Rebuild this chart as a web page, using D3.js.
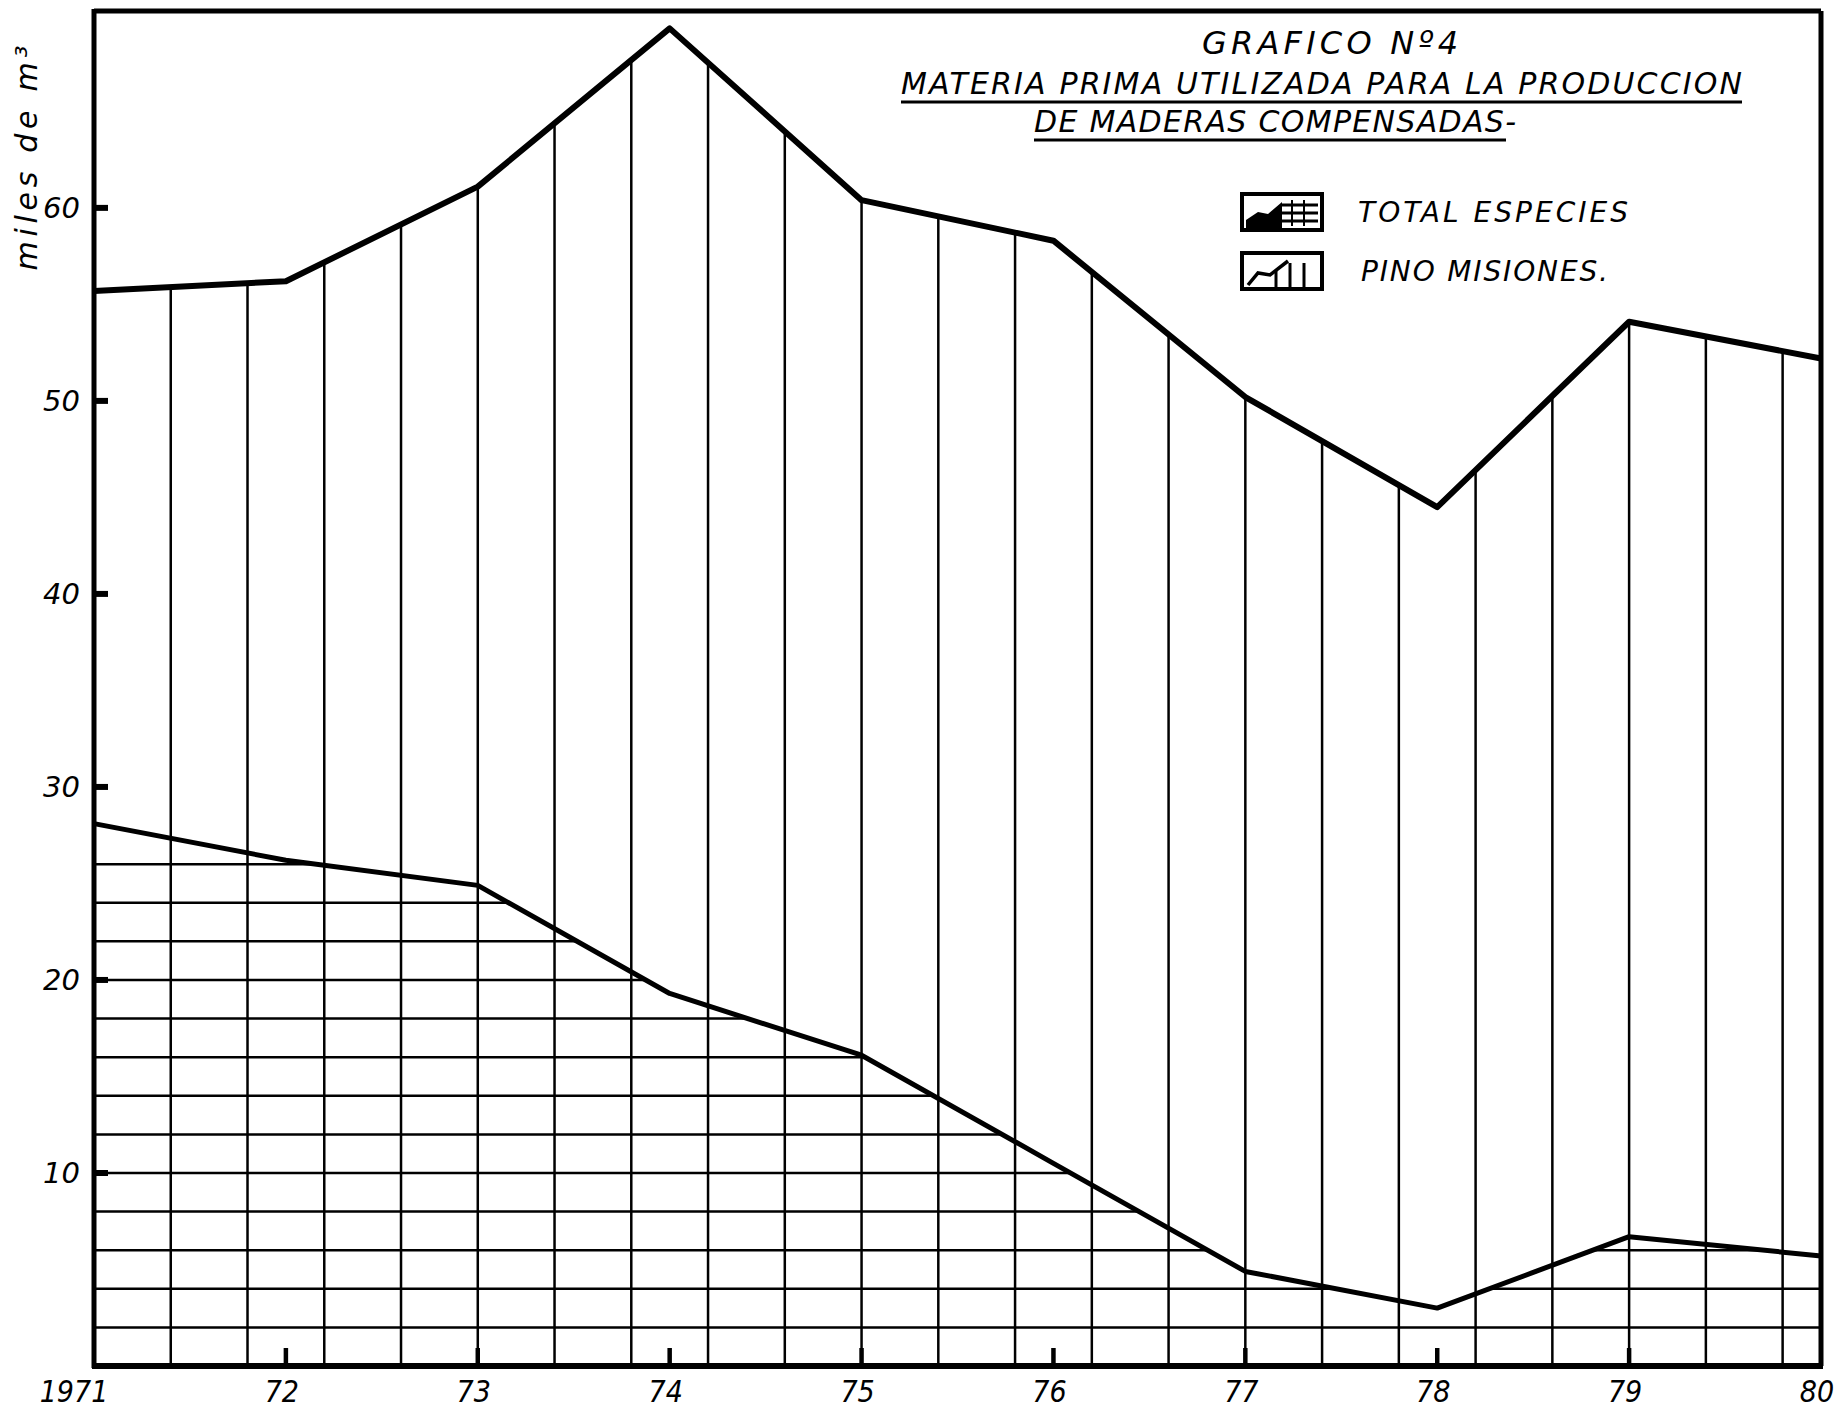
<!DOCTYPE html>
<html>
<head>
<meta charset="utf-8">
<script src="https://cdn.jsdelivr.net/npm/d3@7"></script>
<style>
  body { margin: 0; background: #fff; }
  text { font-family: "DejaVu Sans", sans-serif; font-style: italic; fill: #000; }
</style>
</head>
<body>
<div id="chart"></div>
<script>
var years = [1971, 1972, 1973, 1974, 1975, 1976, 1977, 1978, 1979, 1980];
var yearLabels = ['1971', '72', '73', '74', '75', '76', '77', '78', '79', '80'];
var totalEspecies = [55.7, 56.2, 61.1, 69.3, 60.4, 58.3, 50.2, 44.5, 54.1, 52.2];
var pinoMisiones = [28.1, 26.2, 24.9, 19.3, 16.1, 10.5, 4.9, 3.0, 6.7, 5.7];
var yTicks = [10, 20, 30, 40, 50, 60];
var titleLines = ['GRAFICO Nº4', 'MATERIA PRIMA UTILIZADA PARA LA PRODUCCION', 'DE MADERAS COMPENSADAS-'];
var legendLabels = ['TOTAL ESPECIES', 'PINO MISIONES.'];
var yLabel = 'miles de m³';

var width = 1843;
var height = 1413;
var pLeft = 94, pRight = 1821, pTop = 11, pBottom = 1366;

var x = d3.scaleLinear().domain([1971, 1980]).range([pLeft, pRight]);
var y = d3.scaleLinear().domain([0, 70.2]).range([pBottom, pTop]);

var svg = d3.select('#chart')
  .append('svg')
  .attr('width', width)
  .attr('height', height)
  .style('background', '#fff');

var defs = svg.append('defs');

var area = d3.area()
  .x(function(d, i) { return x(years[i]); })
  .y0(pBottom)
  .y1(function(d) { return y(d); });

var line = d3.line()
  .x(function(d, i) { return x(years[i]); })
  .y(function(d) { return y(d); });

defs.append('clipPath').attr('id', 'clipTotal')
  .append('path').attr('d', area(totalEspecies));
defs.append('clipPath').attr('id', 'clipPino')
  .append('path').attr('d', area(pinoMisiones));

// vertical hatching under total especies (every 0.4 year)
var vLines = d3.range(1, 23).map(function(i) { return 1971 + i * 0.4; });
svg.append('g')
  .attr('clip-path', 'url(#clipTotal)')
  .selectAll('line')
  .data(vLines)
  .enter()
  .append('line')
  .attr('x1', function(d) { return x(d); })
  .attr('x2', function(d) { return x(d); })
  .attr('y1', pTop)
  .attr('y2', pBottom)
  .attr('stroke', '#000')
  .attr('stroke-width', 2.5);

// horizontal hatching under pino misiones (every 2 units)
var hLines = d3.range(2, 28, 2);
svg.append('g')
  .attr('clip-path', 'url(#clipPino)')
  .selectAll('line')
  .data(hLines)
  .enter()
  .append('line')
  .attr('x1', pLeft)
  .attr('x2', pRight)
  .attr('y1', function(d) { return y(d); })
  .attr('y2', function(d) { return y(d); })
  .attr('stroke', '#000')
  .attr('stroke-width', 2.5);

// series lines
svg.append('path')
  .attr('d', line(totalEspecies))
  .attr('fill', 'none')
  .attr('stroke', '#000')
  .attr('stroke-width', 6)
  .attr('stroke-linejoin', 'round');

svg.append('path')
  .attr('d', line(pinoMisiones))
  .attr('fill', 'none')
  .attr('stroke', '#000')
  .attr('stroke-width', 5)
  .attr('stroke-linejoin', 'round');

// frame
svg.append('line').attr('x1', pLeft).attr('x2', pRight).attr('y1', pTop).attr('y2', pTop)
  .attr('stroke', '#000').attr('stroke-width', 5);
svg.append('line').attr('x1', pRight).attr('x2', pRight).attr('y1', pTop).attr('y2', pBottom)
  .attr('stroke', '#000').attr('stroke-width', 5);
svg.append('line').attr('x1', pLeft).attr('x2', pLeft).attr('y1', pTop - 2).attr('y2', pBottom + 2)
  .attr('stroke', '#000').attr('stroke-width', 5);
svg.append('line').attr('x1', pLeft - 2).attr('x2', pRight + 2).attr('y1', pBottom).attr('y2', pBottom)
  .attr('stroke', '#000').attr('stroke-width', 6);

// y ticks + labels
svg.selectAll('.ytick')
  .data(yTicks)
  .enter()
  .append('line')
  .attr('x1', pLeft)
  .attr('x2', pLeft + 14)
  .attr('y1', function(d) { return y(d); })
  .attr('y2', function(d) { return y(d); })
  .attr('stroke', '#000')
  .attr('stroke-width', 6);

svg.selectAll('.ylab')
  .data(yTicks)
  .enter()
  .append('text')
  .attr('x', pLeft - 14)
  .attr('y', function(d) { return y(d); })
  .attr('dy', '0.36em')
  .attr('text-anchor', 'end')
  .style('font-size', '29px')
  .text(function(d) { return d; });

// x ticks + labels
svg.selectAll('.xtick')
  .data(years.slice(1, -1))
  .enter()
  .append('line')
  .attr('x1', function(d) { return x(d); })
  .attr('x2', function(d) { return x(d); })
  .attr('y1', pBottom)
  .attr('y2', pBottom - 18)
  .attr('stroke', '#000')
  .attr('stroke-width', 4.5);

svg.selectAll('.xlab')
  .data(years)
  .enter()
  .append('text')
  .attr('x', function(d, i) { return x(d) + (i === 0 ? -20 : -4); })
  .attr('y', pBottom + 36)
  .attr('text-anchor', 'middle')
  .style('font-family', '"DejaVu Sans Condensed", "DejaVu Sans", sans-serif')
  .style('font-size', '30px')
  .text(function(d, i) { return yearLabels[i]; });

// axis title
svg.append('text')
  .attr('transform', 'translate(37,158) rotate(-90)')
  .attr('text-anchor', 'middle')
  .attr('textLength', 225)
  .attr('lengthAdjust', 'spacing')
  .style('font-size', '30px')
  .text(yLabel);

// title
var titlePos = [
  { x1: 1202, x2: 1458, y: 54, size: 32, ul: false },
  { x1: 901, x2: 1742, y: 94, size: 30, ul: true },
  { x1: 1034, x2: 1516, y: 132, size: 30, ul: true }
];
titleLines.forEach(function(t, i) {
  var p = titlePos[i];
  svg.append('text')
    .attr('x', p.x1)
    .attr('y', p.y)
    .attr('textLength', p.x2 - p.x1)
    .attr('lengthAdjust', 'spacing')
    .style('font-size', p.size + 'px')
    .text(t);
  if (p.ul) {
    svg.append('line')
      .attr('x1', p.x1).attr('x2', i === 2 ? p.x2 - 10 : p.x2)
      .attr('y1', p.y + 8).attr('y2', p.y + 8)
      .attr('stroke', '#000').attr('stroke-width', 3);
  }
});

// legend
var legend = svg.append('g');
var boxX = 1242, boxW = 80, boxH = 36;
var boxY = [194, 253];

legendLabels.forEach(function(label, i) {
  var g = legend.append('g').attr('transform', 'translate(' + boxX + ',' + boxY[i] + ')');
  g.append('rect')
    .attr('width', boxW).attr('height', boxH)
    .attr('fill', 'none').attr('stroke', '#000').attr('stroke-width', 4);
  if (i === 0) {
    g.append('path').attr('d', 'M4,26 L16,18 L26,20 L40,8 L40,34 L4,34 Z').attr('fill', '#000');
    [11, 19, 27].forEach(function(v) {
      g.append('line').attr('x1', 40).attr('x2', 76).attr('y1', v).attr('y2', v)
        .attr('stroke', '#000').attr('stroke-width', 3);
    });
    [50, 62].forEach(function(v) {
      g.append('line').attr('x1', v).attr('x2', v).attr('y1', 6).attr('y2', 32)
        .attr('stroke', '#000').attr('stroke-width', 2);
    });
  } else {
    g.append('path').attr('d', 'M6,32 L16,20 L28,22 L46,8')
      .attr('fill', 'none').attr('stroke', '#000').attr('stroke-width', 3.5);
    [34, 48, 62].forEach(function(v) {
      g.append('line').attr('x1', v).attr('x2', v).attr('y1', v === 34 ? 18 : 10).attr('y2', 34)
        .attr('stroke', '#000').attr('stroke-width', 3);
    });
  }
  legend.append('text')
    .attr('x', i === 0 ? 1358 : 1361)
    .attr('y', boxY[i] + 28)
    .attr('textLength', i === 0 ? 270 : 247)
    .attr('lengthAdjust', 'spacing')
    .style('font-size', '28px')
    .text(label);
});
</script>
</body>
</html>
